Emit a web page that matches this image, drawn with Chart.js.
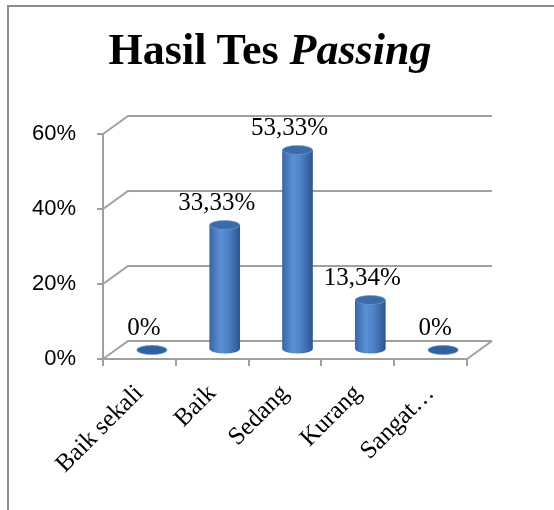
<!DOCTYPE html>
<html>
<head>
<meta charset="utf-8">
<script src="https://cdn.jsdelivr.net/npm/chart.js@4.4.1/dist/chart.umd.min.js"></script>
<style>
  html, body { margin: 0; padding: 0; background: #fff; }
  #wrap { position: relative; width: 554px; height: 510px; overflow: hidden; }
  #frame {
    position: absolute; left: 7px; top: 5px; right: -10px; bottom: -10px;
    border-left: 2px solid #8c8c8c; border-top: 2px solid #8c8c8c;
  }
  #title {
    position: absolute; left: 0; top: 28px; width: 540px; margin: 0;
    text-align: center; color: #000;
    font: bold 44px/44px "Liberation Serif", "Times New Roman", serif;
  }
  canvas { position: absolute; left: 0; top: 0; }
</style>
</head>
<body>
<div id="wrap">
  <div id="frame"></div>
  <canvas id="passChart" width="554" height="510"></canvas>
  <h1 id="title">Hasil Tes <i>Passing</i></h1>
</div>
<script>
// ── Data ──
const categories = ['Baik sekali', 'Baik', 'Sedang', 'Kurang', 'Sangat…'];
const percentValues = [0, 33.33, 53.33, 13.34, 0];
const yTickStep = 20;
const yMax = 60;

// ── 3D look ──
const DEPTH_X = 25;      // back wall offset
const DEPTH_Y = -18;
const BAR_W = 30;
const CAP_RY = 4.5;
const GRID_COLOR = '#a0a0a0';

function cylinderFill(ctx) {
  const chart = ctx.chart;
  const xs = chart.scales.x;
  const xc = xs ? xs.getPixelForValue(ctx.dataIndex) : NaN;
  if (!Number.isFinite(xc)) return '#4f81bd';
  const g = chart.ctx.createLinearGradient(xc - BAR_W / 2, 0, xc + BAR_W / 2, 0);
  g.addColorStop(0, '#3a67a5');
  g.addColorStop(0.35, '#5b90d6');
  g.addColorStop(0.6, '#4f83c9');
  g.addColorStop(1, '#2d5690');
  return g;
}

function formatPct(v) {
  return v === 0 ? '0%' : v.toFixed(2).replace('.', ',') + '%';
}

const cylinderPlugin = {
  id: 'cylinder3d',
  beforeDatasetsDraw(chart) {
    const { ctx, chartArea, scales } = chart;
    const y = scales.y;

    // back wall grid lines + diagonals from the front axis
    ctx.save();
    ctx.strokeStyle = GRID_COLOR;
    ctx.lineWidth = 2;
    y.ticks.forEach(t => {
      const py = y.getPixelForValue(t.value);
      ctx.beginPath();
      ctx.moveTo(chartArea.left, py);
      ctx.lineTo(chartArea.left + DEPTH_X, py + DEPTH_Y);
      ctx.lineTo(chartArea.right + DEPTH_X, py + DEPTH_Y);
      ctx.stroke();
    });
    // floor right edge
    ctx.beginPath();
    ctx.moveTo(chartArea.right, chartArea.bottom);
    ctx.lineTo(chartArea.right + DEPTH_X, chartArea.bottom + DEPTH_Y);
    ctx.stroke();
    ctx.restore();

    // bars sit halfway into the depth
    ctx.save();
    ctx.translate(DEPTH_X / 2, DEPTH_Y / 2);
    const meta = chart.getDatasetMeta(0);
    meta.data.forEach((el, i) => {
      ctx.fillStyle = cylinderFill({ chart, dataIndex: i });
      ctx.beginPath();
      ctx.ellipse(el.x, el.base, BAR_W / 2, CAP_RY, 0, 0, Math.PI * 2);
      ctx.fill();
    });
  },
  afterDatasetsDraw(chart) {
    const { ctx } = chart;
    const meta = chart.getDatasetMeta(0);
    meta.data.forEach((el, i) => {
      ctx.beginPath();
      ctx.ellipse(el.x, el.y, BAR_W / 2, CAP_RY, 0, 0, Math.PI * 2);
      ctx.fillStyle = percentValues[i] === 0 ? '#33619d' : '#3d6ba8';
      ctx.fill();
      ctx.strokeStyle = 'rgba(120,160,215,0.6)';
      ctx.lineWidth = 1;
      ctx.stroke();
    });
    ctx.restore();

    // value labels
    ctx.save();
    ctx.font = '25px "Liberation Serif", "Times New Roman", serif';
    ctx.fillStyle = '#000';
    ctx.textAlign = 'center';
    ctx.textBaseline = 'middle';
    meta.data.forEach((el, i) => {
      ctx.fillText(formatPct(percentValues[i]), el.x + DEPTH_X / 2 - 8, el.y + DEPTH_Y / 2 - 22);
    });
    ctx.restore();
  }
};

new Chart(document.getElementById('passChart'), {
  type: 'bar',
  data: {
    labels: categories,
    datasets: [{
      data: percentValues,
      backgroundColor: cylinderFill,
      borderWidth: 0,
      barThickness: BAR_W,
      clip: false
    }]
  },
  options: {
    responsive: false,
    animation: false,
    layout: { padding: { left: 0, top: 134, right: 87, bottom: 0 } },
    plugins: {
      legend: { display: false },
      tooltip: { enabled: false },
      title: { display: false }
    },
    scales: {
      x: {
        afterFit: s => { s.height = 151; },
        border: { display: true, color: GRID_COLOR, width: 2 },
        grid: { drawOnChartArea: false, drawTicks: true, tickLength: 7, color: GRID_COLOR, lineWidth: 2 },
        ticks: {
          color: '#000',
          font: { family: '"Liberation Serif", "Times New Roman", serif', size: 25 },
          minRotation: 45,
          maxRotation: 45,
          padding: 13,
          autoSkip: false
        }
      },
      y: {
        min: 0,
        max: yMax,
        afterFit: s => { s.width = 103; },
        border: { display: true, color: GRID_COLOR, width: 2 },
        grid: { drawOnChartArea: false, drawTicks: true, tickLength: 6, color: GRID_COLOR, lineWidth: 2 },
        ticks: {
          stepSize: yTickStep,
          color: '#000',
          font: { family: '"Liberation Sans", Arial, sans-serif', size: 22 },
          padding: 21,
          callback: v => v + '%'
        }
      }
    }
  },
  plugins: [cylinderPlugin]
});
</script>
</body>
</html>
